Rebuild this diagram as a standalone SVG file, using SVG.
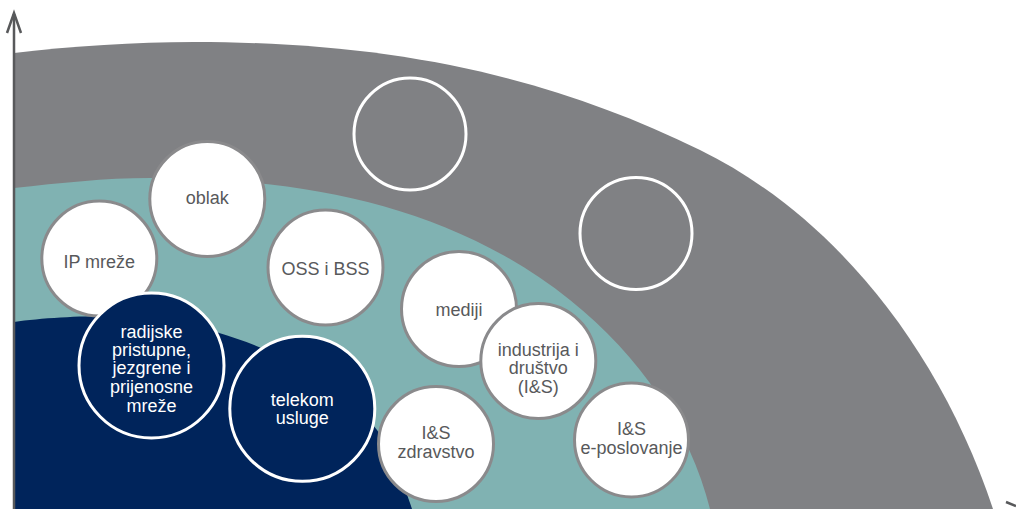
<svg xmlns="http://www.w3.org/2000/svg" width="1016" height="509" viewBox="0 0 1016 509">
<style>
.lbl{font-family:"Liberation Sans",Arial,sans-serif;font-size:18px;text-anchor:middle}
.w{fill:#ffffff;stroke:#8a8a8c;stroke-width:3}
.wt{fill:#58595b}
.n{fill:#00245b;stroke:#ffffff;stroke-width:3}
.nt{fill:#ffffff}
.e{fill:none;stroke:#ffffff;stroke-width:3}
.ax{fill:none;stroke:#58595b;stroke-width:2.5;stroke-linecap:butt}
</style>
<rect width="1016" height="509" fill="#ffffff"/>
<g id="bands">
<path d="M14,53 C74,46 134,42 194,42 C394,42 550,76.5 700,150 C830,213.7 938,344 993,509 L14,509 Z" fill="#808184"/>
<path d="M14,188 C60,183 105,178 150,178 C300,178 450,204 570,300 C640,356 690,429 710,509 L14,509 Z" fill="#80b2b2"/>
<path d="M14,322 C40,318 80,316 110,316 C190,316 317,352 377,430 C389,445.6 402,479 412,509 L14,509 Z" fill="#00245b"/>
</g>
<g id="axes">
<path class="ax" d="M14,509 L14,14"/>
<path class="ax" d="M7,33 L14,13 L21,33"/>
<path class="ax" d="M1006,502 L1016,506"/>
</g>
<g id="empty1"><circle class="e" cx="410" cy="134" r="56"/></g>
<g id="empty2"><circle class="e" cx="636" cy="233.5" r="56"/></g>
<g id="oblak"><circle class="w" cx="207.3" cy="199" r="57.5"/><text class="lbl wt" x="207.3" y="204">oblak</text></g>
<g id="ipmreze"><circle class="w" cx="99.3" cy="258.5" r="57.5"/><text class="lbl wt" x="99.3" y="268">IP mreže</text></g>
<g id="ossbss"><circle class="w" cx="325.5" cy="267.5" r="57.5"/><text class="lbl wt" x="325.5" y="275">OSS i BSS</text></g>
<g id="mediji"><circle class="w" cx="459" cy="309" r="57.5"/><text class="lbl wt" x="459" y="316">mediji</text></g>
<g id="industrija"><circle class="w" cx="538.3" cy="361" r="57.5"/><text class="lbl wt" x="538.3" y="355.5">industrija i</text><text class="lbl wt" x="538.3" y="374">društvo</text><text class="lbl wt" x="538.3" y="392.5">(I&amp;S)</text></g>
<g id="zdravstvo"><circle class="w" cx="436" cy="444" r="57.5"/><text class="lbl wt" x="436" y="439.3">I&amp;S</text><text class="lbl wt" x="436" y="457.5">zdravstvo</text></g>
<g id="eposlovanje"><circle class="w" cx="631.5" cy="440" r="57"/><text class="lbl wt" x="631.5" y="435">I&amp;S</text><text class="lbl wt" x="631.5" y="453.5">e-poslovanje</text></g>
<g id="radijske"><circle class="n" cx="151.5" cy="365.5" r="72.5"/><text class="lbl nt" x="151.5" y="337.7">radijske</text><text class="lbl nt" x="151.5" y="356">pristupne,</text><text class="lbl nt" x="151.5" y="374.3">jezgrene i</text><text class="lbl nt" x="151.5" y="392.7">prijenosne</text><text class="lbl nt" x="151.5" y="411.5">mreže</text></g>
<g id="telekom"><circle class="n" cx="302.3" cy="408.8" r="72.5"/><text class="lbl nt" x="302.3" y="406">telekom</text><text class="lbl nt" x="302.3" y="424.3">usluge</text></g>
<g id="connectors"></g>
</svg>
